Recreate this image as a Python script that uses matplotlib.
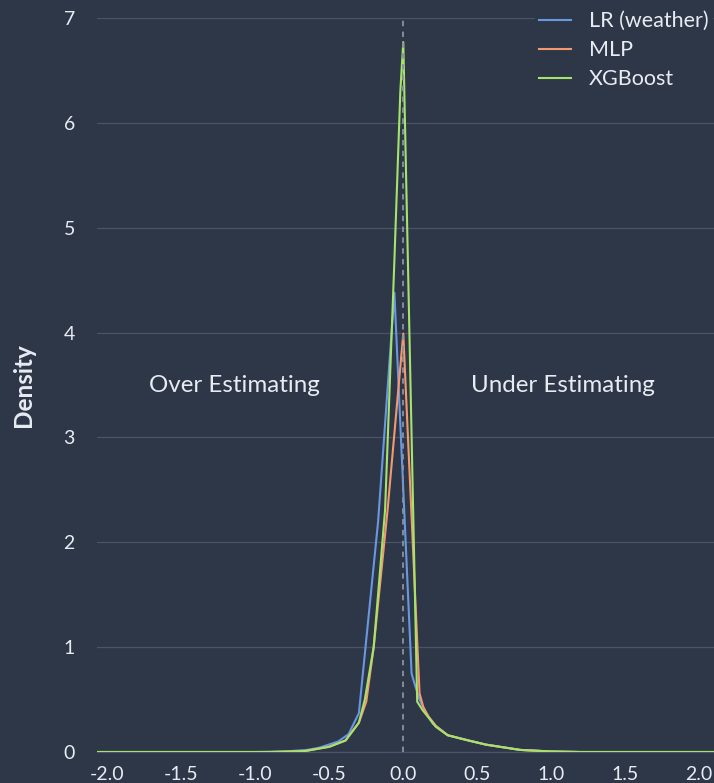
import matplotlib
matplotlib.use("Agg")
import matplotlib.pyplot as plt

# ---- data ----
labels = ["LR (weather)", "MLP", "XGBoost"]

lr_x = [-2.07, -1.0, -0.8, -0.65, -0.57, -0.44, -0.37, -0.30, -0.17, -0.06, 0.056, 0.07, 0.11, 0.15, 0.2, 0.3, 0.44, 0.56, 0.79, 1.0, 1.2, 2.1]
lr_y = [0.0, 0.0, 0.005, 0.02, 0.04, 0.10, 0.17, 0.37, 2.2, 4.38, 0.75, 0.68, 0.50, 0.38, 0.27, 0.16, 0.11, 0.07, 0.02, 0.005, 0.0, 0.0]

mlp_x = [-2.07, -0.9, -0.75, -0.66, -0.5, -0.39, -0.30, -0.25, -0.20, -0.106, 0.0, 0.11, 0.135, 0.17, 0.22, 0.3, 0.44, 0.56, 0.79, 1.0, 1.2, 2.1]
mlp_y = [0.0, 0.0, 0.005, 0.01, 0.05, 0.11, 0.28, 0.48, 1.0, 2.31, 3.99, 0.56, 0.43, 0.34, 0.25, 0.16, 0.11, 0.07, 0.02, 0.005, 0.0, 0.0]

xgb_x = [-2.07, -0.9, -0.75, -0.66, -0.5, -0.39, -0.30, -0.26, -0.20, -0.123, -0.06, -0.02, 0.0, 0.094, 0.13, 0.17, 0.22, 0.3, 0.44, 0.56, 0.79, 1.0, 1.2, 2.1]
xgb_y = [0.0, 0.0, 0.005, 0.01, 0.05, 0.11, 0.28, 0.5, 1.0, 2.31, 4.69, 6.3, 6.77, 0.48, 0.40, 0.33, 0.24, 0.16, 0.11, 0.07, 0.02, 0.005, 0.0, 0.0]

xticks = [-2.0, -1.5, -1.0, -0.5, 0.0, 0.5, 1.0, 1.5, 2.0]
yticks = [0, 1, 2, 3, 4, 5, 6, 7]

# ---- style ----
BG = "#2d3748"
TXT = "#e8ecf2"
colors = ["#6a98e0", "#f4996f", "#a6e36a"]
FONT = ["Lato", "DejaVu Sans"]
plt.rcParams["font.family"] = FONT

fig = plt.figure(figsize=(7.14, 7.83), dpi=100, facecolor=BG)
ax = fig.add_axes([97/714, 31/783, 617/714, 734/783], facecolor=BG)

for xs, ys, c, lab in zip([lr_x, mlp_x, xgb_x], [lr_y, mlp_y, xgb_y], colors, labels):
    ax.plot(xs, ys, color=c, lw=1.5, label=lab, zorder=3)

ax.axvline(0, color="#8a929e", lw=1.3, ls=(0, (3, 3)), zorder=4)

ax.set_xlim(-2.07, 2.1)
ax.set_ylim(0, 7)
ax.set_xticks(xticks)
ax.set_xticklabels([f"{t:.1f}" for t in xticks])
ax.set_yticks(yticks)
ax.grid(axis="y", color="#4a5467", lw=0.9, zorder=0)
ax.grid(axis="x", visible=False)
for s in ["top", "right", "left"]:
    ax.spines[s].set_visible(False)
ax.spines["bottom"].set_color("#4a5467")
ax.spines["bottom"].set_linewidth(0.9)
ax.tick_params(axis="both", length=0, colors=TXT, labelsize=14)
ax.tick_params(axis="x", pad=10)
ax.tick_params(axis="y", pad=20)
ax.set_ylabel("Density", color=TXT, fontsize=17.5, fontweight="bold")
ax.yaxis.set_label_coords(-0.1, 0.5)
for lab in ax.get_yticklabels():
    lab.set_horizontalalignment("center")

ax.text(-1.14, 3.5, "Over Estimating", color=TXT, fontsize=17.4, ha="center", va="center")
ax.text(1.08, 3.5, "Under Estimating", color=TXT, fontsize=17.4, ha="center", va="center")

leg = ax.legend(loc="upper right", bbox_to_anchor=(1.015, 1.03), frameon=True, fontsize=15.5,
                handlelength=1.5, labelspacing=0.42, borderpad=0.2, handletextpad=0.8)
leg.get_frame().set_facecolor(BG)
leg.get_frame().set_edgecolor(BG)
leg.get_frame().set_alpha(1)
for t in leg.get_texts():
    t.set_color(TXT)

fig.savefig("out.png", dpi=100, facecolor=BG)
